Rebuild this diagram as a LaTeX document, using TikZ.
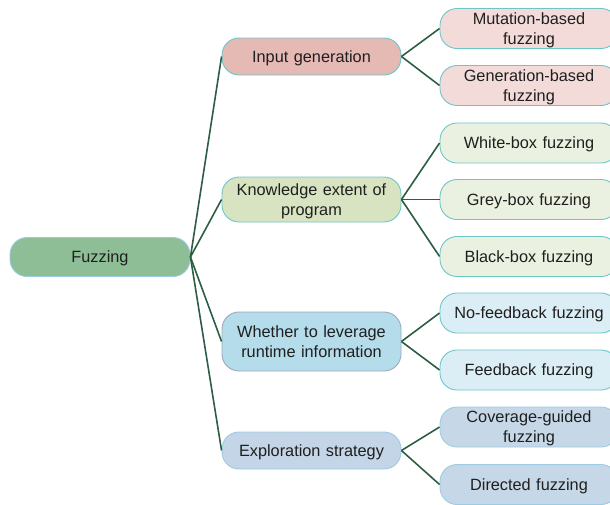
\documentclass[tikz,border=0pt]{standalone}
\usepackage{fontspec}
\setmainfont{Liberation Sans}
\begin{document}
\begin{tikzpicture}[x=1pt,y=-1pt,
  txt/.style={text=black!88, font=\fontsize{16.3}{20}\selectfont, align=center, inner sep=0pt, text height=11.8pt, text depth=0pt},
  twolines/.style={text height=11.8pt, text depth=20pt},
  box/.style={txt, draw=edgeteal, line width=0.9pt, rounded corners=17pt},
  rootbox/.style={box, fill=rootfill, draw=rootedge, minimum width=180pt, minimum height=39pt},
  midbox/.style={box, minimum width=179pt, text width=170pt},
  leafbox/.style={box, minimum width=178pt, text width=170pt, minimum height=40pt},
  link/.style={draw=linkgreen, line width=1.6pt}]
\definecolor{edgeteal}{HTML}{6CC6C8}
\definecolor{rootedge}{HTML}{9CCBE2}
\definecolor{greyedge}{HTML}{9AA9BC}
\definecolor{rootfill}{HTML}{8EBE96}
\definecolor{linkgreen}{HTML}{2D5E45}
\definecolor{igfill}{HTML}{E5B9B4}
\definecolor{igleaf}{HTML}{F3DBD9}
\definecolor{kefill}{HTML}{D8E4C1}
\definecolor{keleaf}{HTML}{EBF1E0}
\definecolor{wlfill}{HTML}{B5DCEA}
\definecolor{wlleaf}{HTML}{DCEEF5}
\definecolor{esfill}{HTML}{C3D5E6}
\definecolor{esleaf}{HTML}{C6D7E7}
\useasboundingbox (0,0) rectangle (610,504);

% root
\node[rootbox] (root) at (100,257) {Fuzzing};

% second level
\node[midbox, fill=igfill, minimum height=37pt] (ig) at (311.5,56.5) {Input generation};
\node[midbox, twolines, fill=kefill, minimum height=45pt] (ke) at (311.5,199.5) {Knowledge extent of\\program};
\node[midbox, twolines, fill=wlfill, draw=greyedge, minimum height=59pt] (wl) at (311.5,341.5) {Whether to leverage\\runtime information};
\node[midbox, fill=esfill, draw=rootedge, minimum height=37pt] (es) at (311.5,450.5) {Exploration strategy};

% leaves (they run on past the right edge of the page)
\node[leafbox, twolines, fill=igleaf] (mut) at (529,28.5) {Mutation-based\\fuzzing};
\node[leafbox, twolines, fill=igleaf] (gen) at (529,85.5) {Generation-based\\fuzzing};
\node[leafbox, fill=keleaf] (white) at (529,143) {White-box fuzzing};
\node[leafbox, fill=keleaf] (grey) at (529,199.5) {Grey-box fuzzing};
\node[leafbox, fill=keleaf] (black) at (529,256.5) {Black-box fuzzing};
\node[leafbox, fill=wlleaf] (nofb) at (529,313) {No-feedback fuzzing};
\node[leafbox, fill=wlleaf] (fb) at (529,370) {Feedback fuzzing};
\node[leafbox, twolines, fill=esleaf, draw=rootedge] (cov) at (529,427) {Coverage-guided\\fuzzing};
\node[leafbox, fill=esleaf, draw=rootedge] (dir) at (529,484.5) {Directed fuzzing};

% connectors
\foreach \m in {ig,ke,wl,es} \draw[link] (root.east) -- (\m.west);
\foreach \l in {mut,gen} \draw[link] (ig.east) -- (\l.west);
\foreach \l in {white,grey,black} \draw[link] (ke.east) -- (\l.west);
\foreach \l in {nofb,fb} \draw[link] (wl.east) -- (\l.west);
\foreach \l in {cov,dir} \draw[link] (es.east) -- (\l.west);
\end{tikzpicture}
\end{document}
